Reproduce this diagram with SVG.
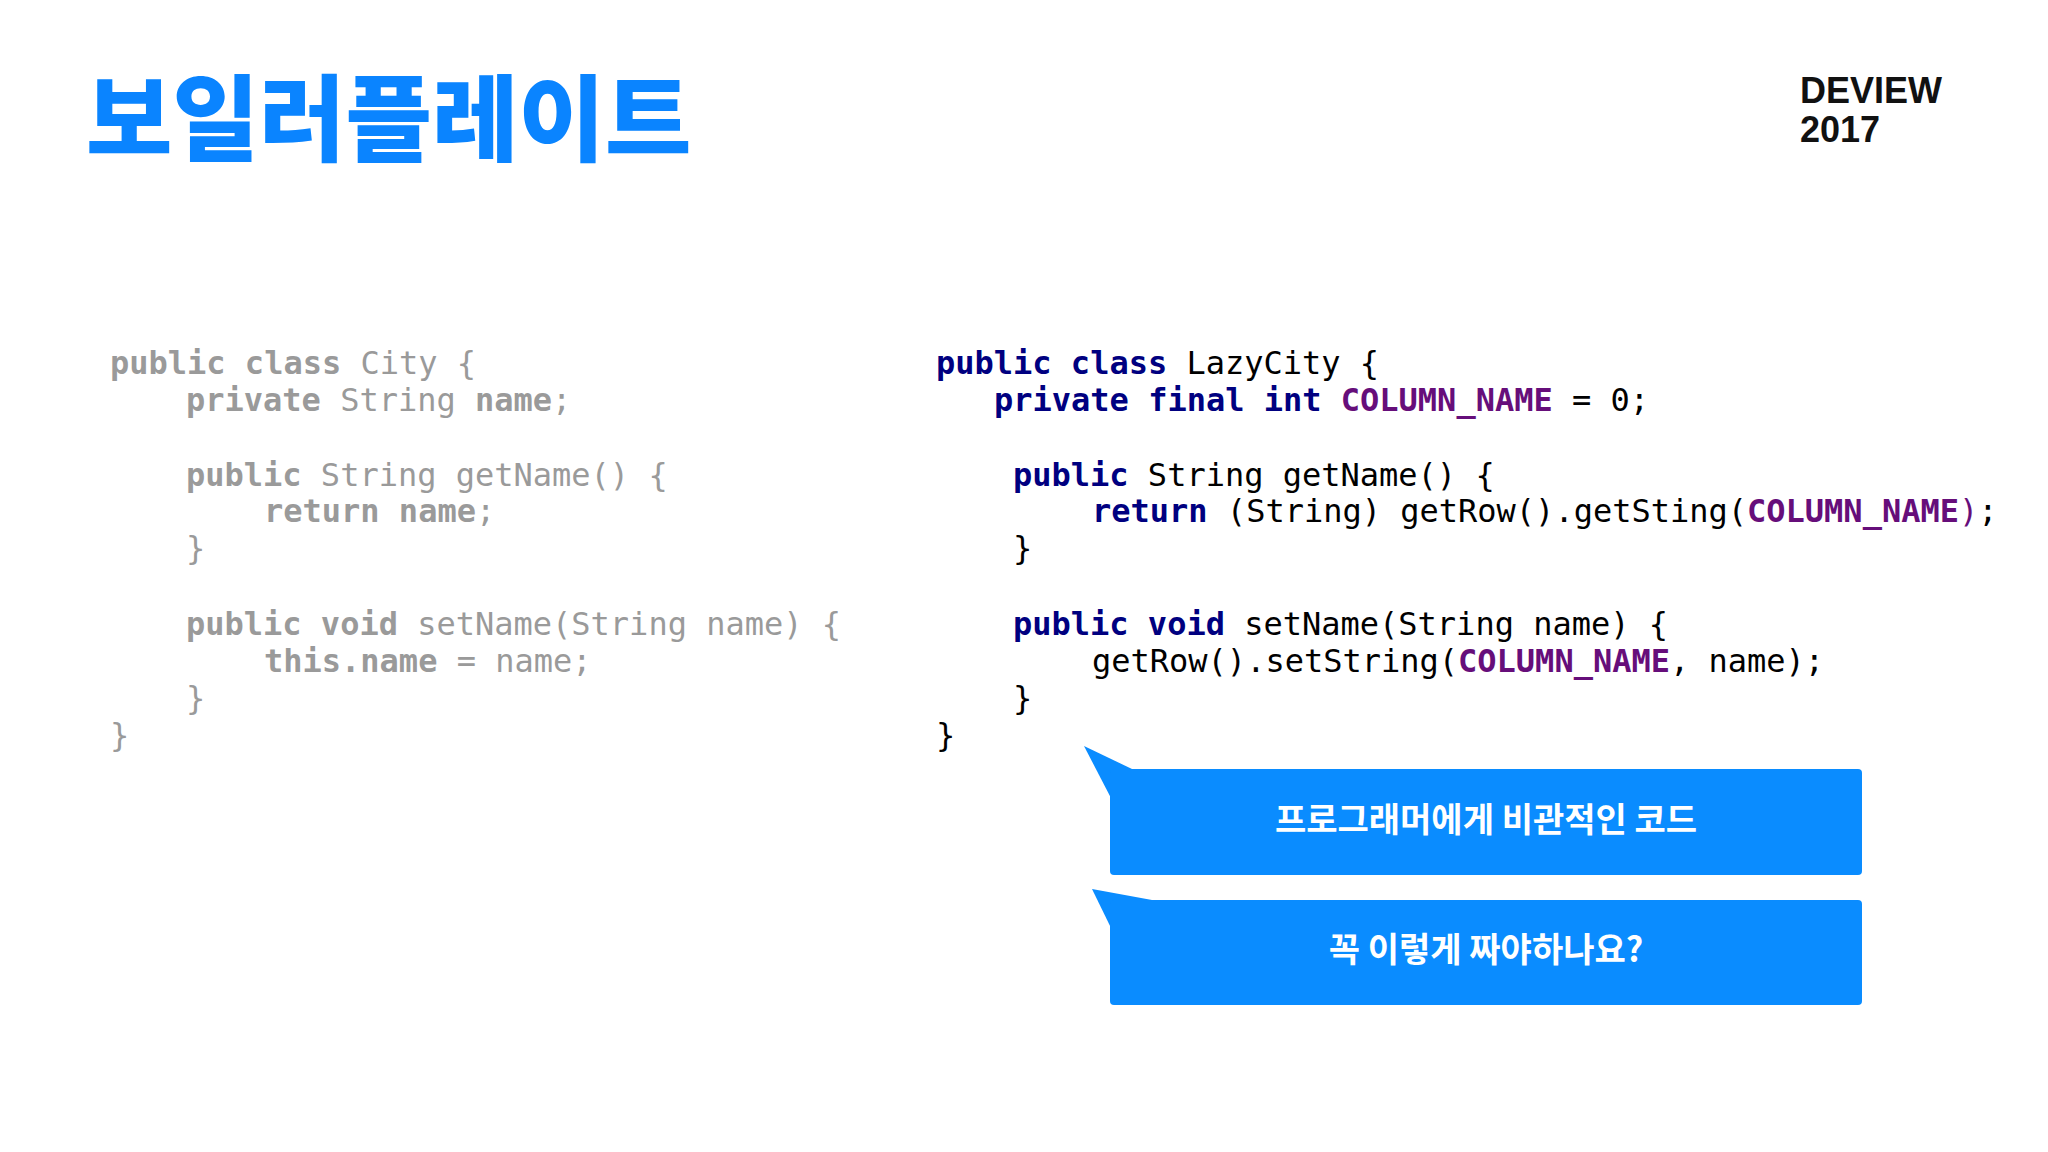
<svg xmlns="http://www.w3.org/2000/svg" width="2048" height="1152" viewBox="0 0 2048 1152">
<style>
.code{font-family:"DejaVu Sans Mono","Liberation Mono",monospace;font-size:32px}
.g{fill:#9a9a9a}.k{font-weight:bold}
.b{fill:#000}.n{fill:#000080;font-weight:bold}.p{fill:#660e7a;font-weight:bold}
.bub{fill:#0a8cff}
.bt{font-family:"Noto Sans CJK KR",sans-serif;font-size:34px;font-weight:bold;fill:#fff;text-anchor:middle}
</style>
<rect width="2048" height="1152" fill="#fff"/>
<text x="86" y="154" font-family="Noto Sans CJK KR,sans-serif" font-size="94" font-weight="900" fill="#0a84ff">보일러플레이트</text>
<g font-family="Liberation Sans,sans-serif" font-size="36" font-weight="bold" fill="#111"><text x="1800" y="103">DEVIEW</text><text x="1800" y="142">2017</text></g>
<g id="left" class="code g" xml:space="preserve">
<text x="110" y="374"><tspan class="k">public class</tspan> City {</text>
<text x="186" y="411"><tspan class="k">private</tspan> String <tspan class="k">name</tspan>;</text>
<text x="186" y="486"><tspan class="k">public</tspan> String getName() {</text>
<text x="264" y="522"><tspan class="k">return name</tspan>;</text>
<text x="186" y="559">}</text>
<text x="186" y="635"><tspan class="k">public void</tspan> setName(String name) {</text>
<text x="264" y="672"><tspan class="k">this.name</tspan> = name;</text>
<text x="186" y="709">}</text>
<text x="110" y="746">}</text>
</g>
<g id="right" class="code b" xml:space="preserve">
<text x="936" y="374"><tspan class="n">public class</tspan> LazyCity {</text>
<text x="994" y="411"><tspan class="n">private final int</tspan> <tspan class="p">COLUMN_NAME</tspan> = 0;</text>
<text x="1013" y="486"><tspan class="n">public</tspan> String getName() {</text>
<text x="1092" y="522"><tspan class="n">return</tspan> (String) getRow().getSting(<tspan class="p">COLUMN_NAME</tspan><tspan fill="#660e7a">)</tspan>;</text>
<text x="1013" y="559">}</text>
<text x="1013" y="635"><tspan class="n">public void</tspan> setName(String name) {</text>
<text x="1092" y="672">getRow().setString(<tspan class="p">COLUMN_NAME</tspan>, name);</text>
<text x="1013" y="709">}</text>
<text x="936" y="746">}</text>
</g>
<g id="bubble1"><polygon class="bub" points="1084,746 1132,769 1112,800"/><rect class="bub" x="1110" y="769" width="752" height="106" rx="4"/><text class="bt" x="1486" y="832">프로그래머에게 비관적인 코드</text></g>
<g id="bubble2"><polygon class="bub" points="1092,889 1152,900 1112,930"/><rect class="bub" x="1110" y="900" width="752" height="105" rx="4"/><text class="bt" x="1486" y="962">꼭 이렇게 짜야하나요?</text></g>
</svg>
